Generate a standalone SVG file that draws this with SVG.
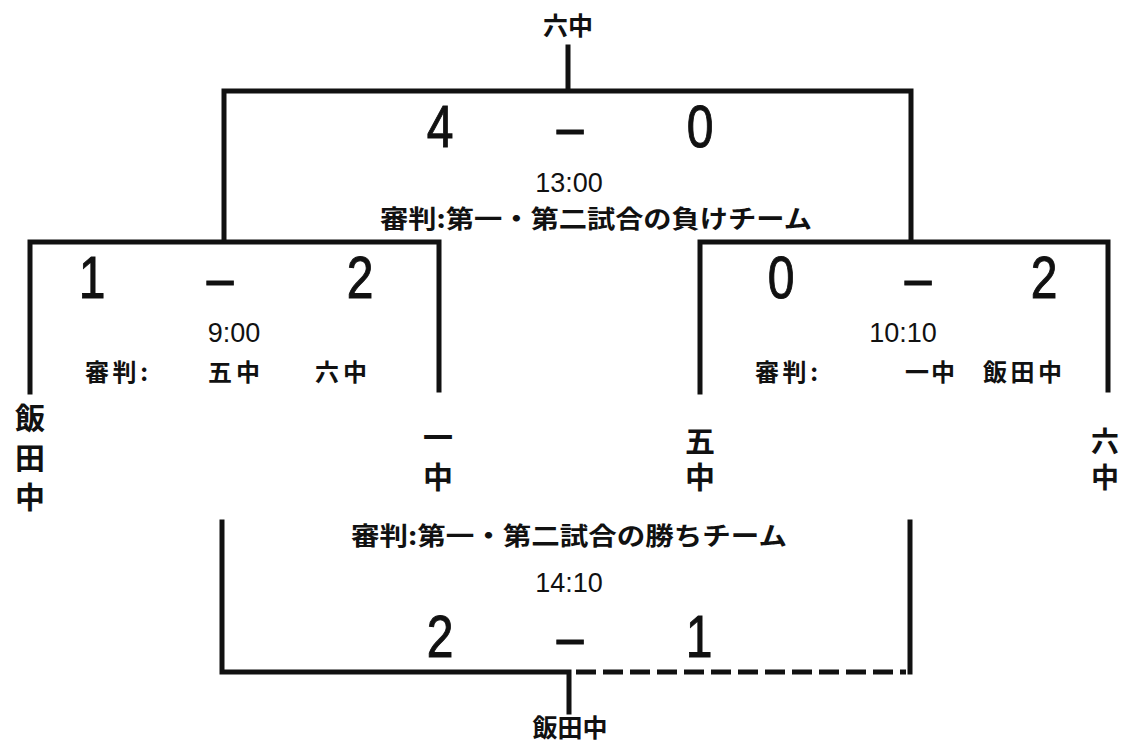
<svg xmlns="http://www.w3.org/2000/svg" width="1125" height="749" viewBox="0 0 1125 749">
<style>
.ln{stroke:#111;stroke-width:5;fill:none;stroke-linecap:square}
.dash{stroke:#111;stroke-width:5;fill:none;stroke-dasharray:20 7}
.sc{font-family:"Liberation Sans",Arial,sans-serif;font-size:60px;fill:#111;stroke:#111;stroke-width:1;text-anchor:middle}
.tm{font-family:"Liberation Sans",Arial,sans-serif;font-size:27px;fill:#111;text-anchor:middle}
.jp{font-family:"Noto Sans CJK JP","Noto Sans CJK SC",sans-serif;font-weight:700;fill:#111}
.j24{font-size:24px}
.j25{font-size:25px}
.vt{font-size:30px;writing-mode:vertical-rl;text-anchor:start}
</style>
<rect width="1125" height="749" fill="#fff"/>
<g id="connectors">
<path class="ln" d="M568,47 V91 M224,91 H911 M224,91 V240 M911,91 V240"/>
<path class="ln" d="M30,392 V242 H439 V390"/>
<path class="ln" d="M700,392 V242 H1108 V390"/>
<path class="ln" d="M222,522 V672 H569 M569,672 V712"/>
<path class="dash" d="M576,672 H906"/>
<path class="ln" d="M910,522 V672"/>
</g>
<g id="final">
<text class="jp j25" x="568" y="35" text-anchor="middle">六中</text>
<text class="sc" transform="translate(440,147) scale(0.8,1)">4</text>
<text class="sc" transform="translate(570,147) scale(0.8,1)">–</text>
<text class="sc" transform="translate(700,147) scale(0.8,1)">0</text>
<text class="tm" x="569" y="192">13:00</text>
<text class="jp j25" x="380" y="228" textLength="432" lengthAdjust="spacingAndGlyphs">審判:第一・第二試合の負けチーム</text>
</g>
<g id="match1">
<text class="sc" transform="translate(92,298) scale(0.8,1)">1</text>
<text class="sc" transform="translate(220,298) scale(0.8,1)">–</text>
<text class="sc" transform="translate(360,298) scale(0.8,1)">2</text>
<text class="tm" x="234" y="342">9:00</text>
<text class="jp j24" x="85" y="381" textLength="63" lengthAdjust="spacing">審判:</text>
<text class="jp j24" x="208" y="381" textLength="52" lengthAdjust="spacing">五中</text>
<text class="jp j24" x="315" y="381" textLength="52" lengthAdjust="spacing">六中</text>
</g>
<g id="match2">
<text class="sc" transform="translate(781,298) scale(0.8,1)">0</text>
<text class="sc" transform="translate(918,298) scale(0.8,1)">–</text>
<text class="sc" transform="translate(1044,298) scale(0.8,1)">2</text>
<text class="tm" x="903" y="342">10:10</text>
<text class="jp j24" x="755" y="381" textLength="63" lengthAdjust="spacing">審判:</text>
<text class="jp j24" x="905" y="381" textLength="50" lengthAdjust="spacing">一中</text>
<text class="jp j24" x="983" y="381" textLength="79" lengthAdjust="spacing">飯田中</text>
</g>
<g id="team-iida">
<text class="jp vt" x="30" y="403" letter-spacing="9.5">飯田中</text>
</g>
<g id="team-ichi">
<text class="jp vt" x="438" y="422" letter-spacing="10">一中</text>
</g>
<g id="team-go">
<text class="jp vt" x="700" y="426" letter-spacing="6">五中</text>
</g>
<g id="team-roku">
<text class="jp vt" x="1105" y="427" letter-spacing="8" style="font-size:28px">六中</text>
</g>
<g id="third">
<text class="jp j25" x="351" y="545" textLength="436" lengthAdjust="spacingAndGlyphs">審判:第一・第二試合の勝ちチーム</text>
<text class="tm" x="569" y="592">14:10</text>
<text class="sc" transform="translate(440,657) scale(0.8,1)">2</text>
<text class="sc" transform="translate(570,657) scale(0.8,1)">–</text>
<text class="sc" transform="translate(699,657) scale(0.8,1)">1</text>
<text class="jp j25" x="570" y="737" text-anchor="middle">飯田中</text>
</g>
</svg>
